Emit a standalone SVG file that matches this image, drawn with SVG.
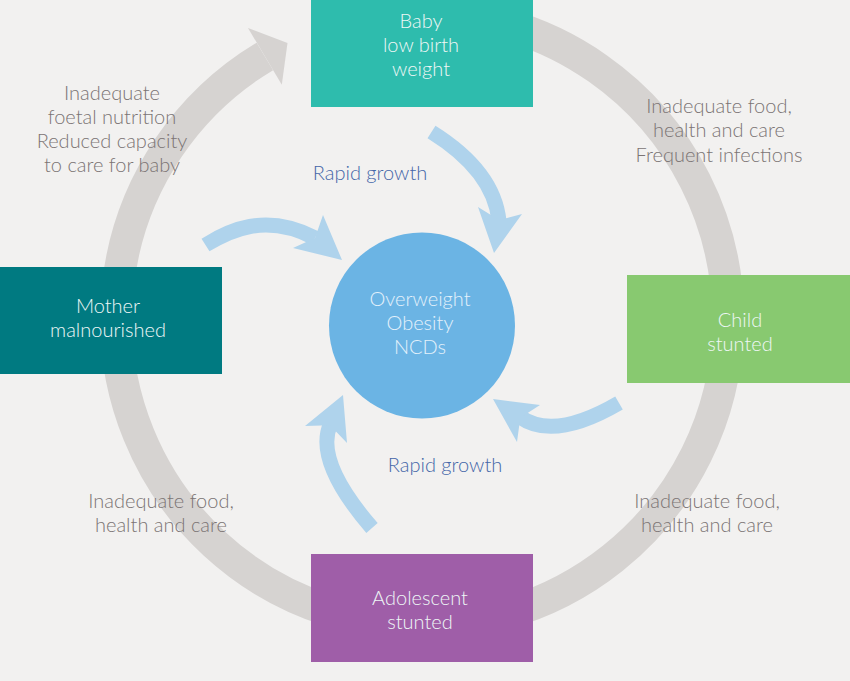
<svg xmlns="http://www.w3.org/2000/svg" width="850" height="681" viewBox="0 0 850 681">
<style>
.bg{fill:#f2f1f0}
.ring{fill:none;stroke:#d6d3d1;stroke-width:32}
.ringhead{fill:#d6d3d1}
.shaft{fill:none;stroke:#afd3ec;stroke-width:15}
.head{fill:#afd3ec}
text{font-family:Lato,"Noto Sans","Liberation Sans",sans-serif;font-size:20px;font-weight:300;text-anchor:middle}
.nt{fill:#eef7f6}
.ct{fill:#e3f1fb}
.lbl{fill:#7b7474}
.rg{fill:#4466a8}
</style>
<rect class="bg" x="0" y="0" width="850" height="681"/>
<g id="connectors">
  <g id="cycle-ring">
    <path class="ring" d="M475.1,17.6 A306,306 0 1 1 264.9,56.4"/>
    <polygon class="ringhead" points="248,28 287.5,43 281.8,84.7"/>
  </g>
  <g id="arrow-baby-obesity">
    <path class="shaft" d="M431.5,132 Q494,171 499,221"/>
    <polygon class="head" points="478,207 499,220 522,214 494,253"/>
  </g>
  <g id="arrow-mother-obesity">
    <path class="shaft" d="M205.5,245 C228,231 265,212 315,238"/>
    <polygon class="head" points="323,215 315,238 293,248 342,260"/>
  </g>
  <g id="arrow-child-obesity">
    <path class="shaft" d="M619,403 Q554,441 520,417"/>
    <polygon class="head" points="540,405 520.3,417.8 517,442 493,399"/>
  </g>
  <g id="arrow-adolescent-obesity">
    <path class="shaft" d="M372,528 Q314,461 330.5,424"/>
    <polygon class="head" points="305,426 330,425.3 347,443 343,395"/>
  </g>
</g>
<g id="node-baby">
  <rect x="311" y="0" width="222" height="107" fill="#2ebcad"/>
  <text class="nt" x="421" y="28">Baby</text>
  <text class="nt" x="421" y="52">low birth</text>
  <text class="nt" x="421" y="76">weight</text>
</g>
<g id="node-mother">
  <rect x="0" y="267" width="222" height="107" fill="#007a81"/>
  <text class="nt" x="108" y="313">Mother</text>
  <text class="nt" x="108" y="337">malnourished</text>
</g>
<g id="node-child">
  <rect x="627" y="275" width="223" height="108" fill="#88c970"/>
  <text class="nt" x="740" y="327">Child</text>
  <text class="nt" x="740" y="351">stunted</text>
</g>
<g id="node-adolescent">
  <rect x="311" y="554" width="222" height="108" fill="#9f5ea8"/>
  <text class="nt" x="420" y="605">Adolescent</text>
  <text class="nt" x="420" y="629">stunted</text>
</g>
<g id="node-obesity">
  <circle cx="422" cy="325.5" r="93" fill="#6bb4e4"/>
  <text class="ct" x="420" y="306">Overweight</text>
  <text class="ct" x="420" y="330">Obesity</text>
  <text class="ct" x="420" y="354">NCDs</text>
</g>
<g id="labels">
  <text class="lbl" x="112" y="100">Inadequate</text>
  <text class="lbl" x="112" y="124">foetal nutrition</text>
  <text class="lbl" x="112" y="148">Reduced capacity</text>
  <text class="lbl" x="112" y="172">to care for baby</text>
  <text class="lbl" x="719" y="113">Inadequate food,</text>
  <text class="lbl" x="719" y="137">health and care</text>
  <text class="lbl" x="719" y="162">Frequent infections</text>
  <text class="lbl" x="161" y="508">Inadequate food,</text>
  <text class="lbl" x="161" y="532">health and care</text>
  <text class="lbl" x="707" y="508">Inadequate food,</text>
  <text class="lbl" x="707" y="532">health and care</text>
  <text class="rg" x="370" y="180">Rapid growth</text>
  <text class="rg" x="445" y="472">Rapid growth</text>
</g>
</svg>
